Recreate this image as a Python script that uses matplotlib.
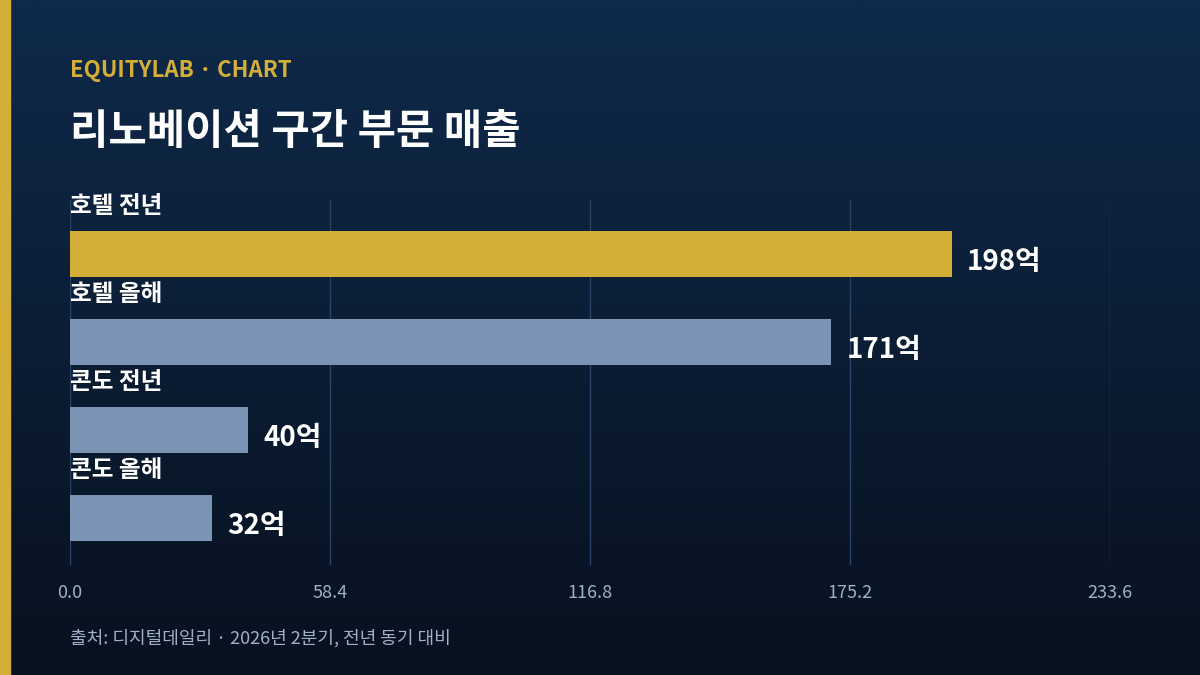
import matplotlib
matplotlib.use("Agg")
import matplotlib.pyplot as plt
import numpy as np

plt.rcParams['font.family'] = ['Noto Sans CJK KR', 'DejaVu Sans']

categories = ["호텔 전년", "호텔 올해", "콘도 전년", "콘도 올해"]
values = [198, 171, 40, 32]
value_labels = ["198억", "171억", "40억", "32억"]
ticks = [0.0, 58.4, 116.8, 175.2, 233.6]
colors = ["#d4af37", "#7b93b5", "#7b93b5", "#7b93b5"]

fig = plt.figure(figsize=(12, 6.75), dpi=100)
bg = fig.add_axes([0, 0, 1, 1])
grad = np.linspace(0, 1, 256).reshape(-1, 1)
from matplotlib.colors import LinearSegmentedColormap
cmap = LinearSegmentedColormap.from_list("g", ["#0f2a4b", "#08111f"])
bg.imshow(grad, aspect='auto', cmap=cmap, extent=[0, 1, 0, 1], origin='upper')
bg.add_patch(plt.Rectangle((0, 0), 10/1200, 1, color="#d4af37"))
bg.set_xlim(0, 1); bg.set_ylim(0, 1); bg.axis('off')

ax = fig.add_axes([70/1200, 1-565/675, 1040/1200, 365/675])
ax.set_facecolor('none')
y = np.arange(len(categories))
ax.barh(y, values, height=0.523, color=colors, zorder=3)
ax.set_xlim(0, 233.6)
ax.set_ylim(3.534, -0.614)
ax.set_xticks(ticks)
ax.set_xticklabels([f"{t:.1f}" for t in ticks], color="#9fb0c8", fontsize=13)
ax.tick_params(axis='x', length=0, pad=14)
ax.set_yticks([])
for s in ax.spines.values():
    s.set_visible(False)
ax.grid(axis='x', color="#2a4266", linewidth=1, zorder=0)
for i, (c, v, lab) in enumerate(zip(categories, values, value_labels)):
    ax.text(0, i - 0.41, c, color="white", fontsize=17, fontweight='bold',
            va='bottom', ha='left')
    ax.text(v + 3.4, i + 0.09, lab, color="white", fontsize=20, fontweight='bold',
            va='center', ha='left')

fig.text(70/1200, 1-71/675, "EQUITYLAB · CHART", color="#d4af37", fontsize=16,
         fontweight='bold', va='center')
fig.text(70/1200, 1-132/675, "리노베이션 구간 부문 매출", color="white", fontsize=30,
         fontweight='bold', va='center')
fig.text(70/1200, 1-638/675, "출처: 디지털데일리 · 2026년 2분기, 전년 동기 대비",
         color="#9fb0c8", fontsize=13, va='center')

fig.savefig("out.png", dpi=100)
